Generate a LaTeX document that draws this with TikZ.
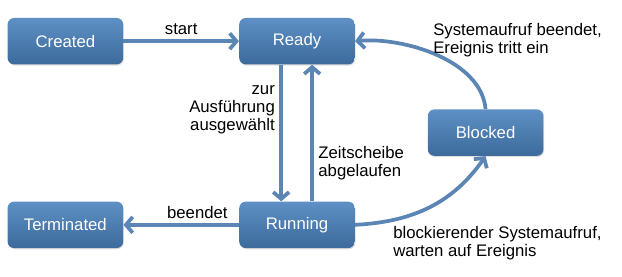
\documentclass[tikz,border=0pt]{standalone}
\usepackage{fontspec}
\setmainfont{Liberation Sans}
\usetikzlibrary{arrows.meta,shadows}
\definecolor{statetop}{HTML}{5E90C5}
\definecolor{statebot}{HTML}{3C6A9B}
\definecolor{flowline}{HTML}{5A85B4}

\begin{document}
\begin{tikzpicture}[font=\fontsize{12.6}{13.8}\selectfont,
state/.style={rounded corners=5pt,top color=statetop,bottom color=statebot,draw=none,text=white,minimum width=3.06cm,minimum height=1.23cm,drop shadow={opacity=.25,shadow xshift=.6pt,shadow yshift=-.9pt}},
flow/.style={-{Straight Barb[length=1.8mm,width=4.2mm]},line width=2.8pt,draw=flowline},
lbl/.style={align=left,inner sep=0pt}]
\useasboundingbox (0,0) rectangle (16.46,7.33);
\node[state] (created) at (1.73,6.24) {Created};
\node[state] (ready) at (7.86,6.24) {Ready};
\node[state] (blocked) at (12.85,3.82) {Blocked};
\node[state] (terminated) at (1.73,1.38) {Terminated};
\node[state] (running) at (7.86,1.38) {Running};
\draw[flow] (created)--node[above]{start}(ready);
\draw[flow] ([xshift=-.42cm]ready.south)--node[pos=.33,left,align=right]{zur\\Ausführung\\ausgewählt}([xshift=-.42cm]running.north);
\draw[flow] ([xshift=.4cm]running.north)--node[pos=.28,right,align=left]{Zeitscheibe\\abgelaufen}([xshift=.4cm]ready.south);
\draw[flow] (running)--node[pos=.36,above]{beendet}(terminated);
\draw[flow] (running.east) to[out=3,in=235] (blocked.south);
\draw[flow] (blocked.north) to[out=95,in=5,looseness=.85] (ready.east);
\node[lbl,anchor=west] (wakeup) at (11.46,6.27) {Systemaufruf beendet,\\Ereignis tritt ein};
\node[lbl,anchor=west] (block) at (10.4,0.9) {blockierender Systemaufruf,\\warten auf Ereignis};
\end{tikzpicture}
\end{document}
